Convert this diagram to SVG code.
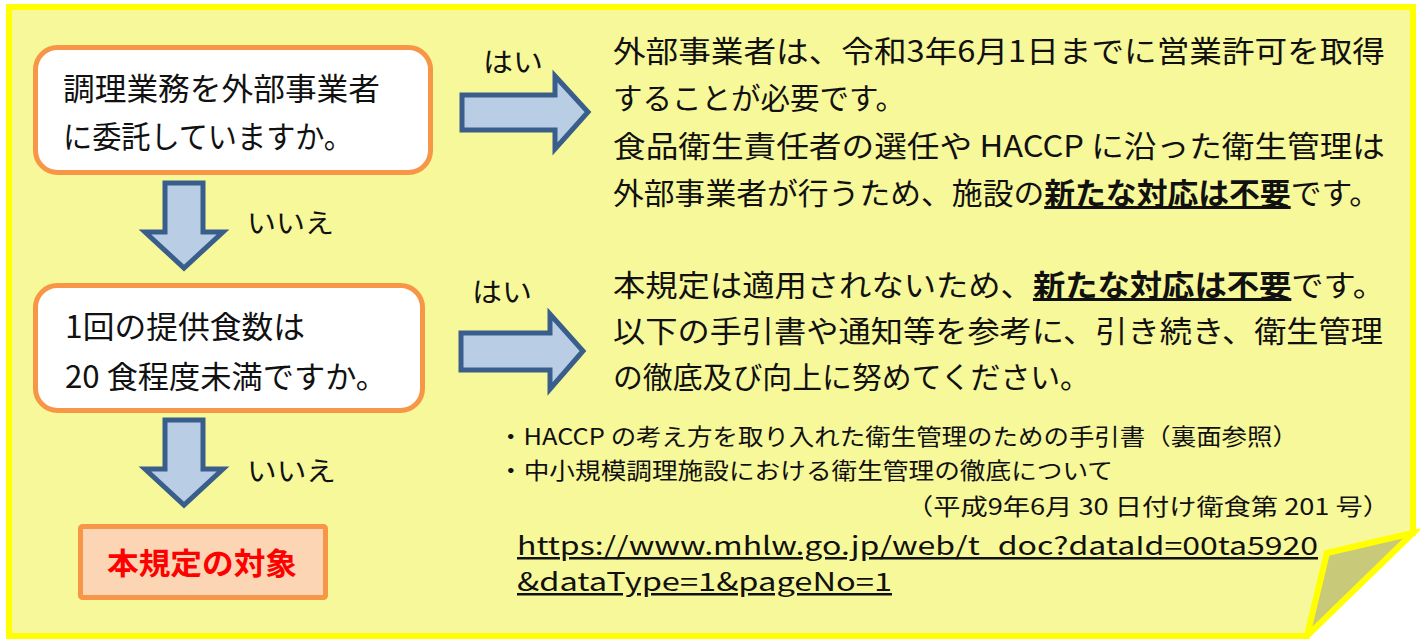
<svg xmlns="http://www.w3.org/2000/svg" width="1420" height="639" viewBox="0 0 1420 639">
<style>
text{font-family:"Noto Sans CJK JP","Noto Sans",sans-serif;fill:#111;}
.q{font-size:31px;}
.r{font-size:30px;}
.s{font-size:23px;}
.u{font-size:25px;text-decoration:underline;}
.lbl{font-size:27px;}
.b{font-weight:bold;text-decoration:underline;}
.box{fill:#ffffff;stroke:#f79646;stroke-width:5;}
.arrow{fill:#b9cde5;stroke:#3a5e8c;stroke-width:5;stroke-linejoin:miter;}
</style>
<g id="page">
<polygon points="9,7 1413,7 1413,533 1327,553 1307,636 9,636" fill="#f7f899" stroke="#ffff00" stroke-width="6" stroke-linejoin="miter"/>
<polygon points="1413,533 1327,553 1307,636" fill="#c9c97a" stroke="#ffff00" stroke-width="6" stroke-linejoin="miter"/>
</g>
<g id="connectors">
<path class="arrow" d="M462,95 H555 V76 L588,112 L555,149 V130 H462 Z"/>
<path class="arrow" d="M461,333 H550 V314 L583,351 L550,389 V370 H461 Z"/>
<path class="arrow" d="M165,183 H203 V232 H223 L184,268 L145,232 H165 Z"/>
<path class="arrow" d="M165,420 H203 V469 H223 L184,505 L145,469 H165 Z"/>
<text class="lbl" x="483" y="72" textLength="60" lengthAdjust="spacingAndGlyphs">はい</text>
<text class="lbl" x="472" y="302" textLength="60" lengthAdjust="spacingAndGlyphs">はい</text>
<text class="lbl" x="247" y="233" textLength="87" lengthAdjust="spacingAndGlyphs">いいえ</text>
<text class="lbl" x="247" y="481" textLength="89" lengthAdjust="spacingAndGlyphs">いいえ</text>
</g>
<g id="q1">
<rect class="box" x="35.5" y="47.5" width="395" height="125" rx="22"/>
<text class="q" x="63" y="100" textLength="317" lengthAdjust="spacingAndGlyphs">調理業務を外部事業者</text>
<text class="q" x="63" y="148" textLength="290" lengthAdjust="spacingAndGlyphs">に委託していますか。</text>
</g>
<g id="q2">
<rect class="box" x="35.5" y="285.5" width="387" height="125" rx="22"/>
<text class="q" x="65" y="338" textLength="240" lengthAdjust="spacingAndGlyphs">1回の提供食数は</text>
<text class="q" x="65" y="388" textLength="322" lengthAdjust="spacingAndGlyphs">20 食程度未満ですか。</text>
</g>
<g id="target">
<rect x="80.5" y="526.5" width="245" height="71" fill="#fcd5b4" stroke="#f79646" stroke-width="5" rx="2"/>
<text x="107" y="574" font-size="30" font-weight="bold" style="fill:#ff0000" textLength="190" lengthAdjust="spacingAndGlyphs">本規定の対象</text>
</g>
<g id="ans1">
<text class="r" x="613" y="62" textLength="772" lengthAdjust="spacingAndGlyphs">外部事業者は、令和3年6月1日までに営業許可を取得</text>
<text class="r" x="613" y="109" textLength="292" lengthAdjust="spacingAndGlyphs">することが必要です。</text>
<text class="r" x="613" y="157" textLength="772" lengthAdjust="spacingAndGlyphs">食品衛生責任者の選任や HACCP に沿った衛生管理は</text>
<text class="r" x="613" y="204" textLength="767" lengthAdjust="spacingAndGlyphs">外部事業者が行うため、施設の<tspan class="b">新たな対応は不要</tspan>です。</text>
</g>
<g id="ans2">
<text class="r" x="613" y="296" textLength="772" lengthAdjust="spacingAndGlyphs">本規定は適用されないため、<tspan class="b">新たな対応は不要</tspan>です。</text>
<text class="r" x="613" y="342" textLength="770" lengthAdjust="spacingAndGlyphs">以下の手引書や通知等を参考に、引き続き、衛生管理</text>
<text class="r" x="613" y="388" textLength="477" lengthAdjust="spacingAndGlyphs">の徹底及び向上に努めてください。</text>
<text class="s" x="498" y="445" textLength="800" lengthAdjust="spacingAndGlyphs">・HACCP の考え方を取り入れた衛生管理のための手引書（裏面参照）</text>
<text class="s" x="498" y="479" textLength="615" lengthAdjust="spacingAndGlyphs">・中小規模調理施設における衛生管理の徹底について</text>
<text class="s" x="906" y="515" textLength="484" lengthAdjust="spacingAndGlyphs">（平成9年6月 30 日付け衛食第 201 号）</text>
<text class="u" x="517" y="555" textLength="801" lengthAdjust="spacingAndGlyphs">https://www.mhlw.go.jp/web/t_doc?dataId=00ta5920</text>
<text class="u" x="517" y="591" textLength="375" lengthAdjust="spacingAndGlyphs">&amp;dataType=1&amp;pageNo=1</text>
</g>
</svg>
